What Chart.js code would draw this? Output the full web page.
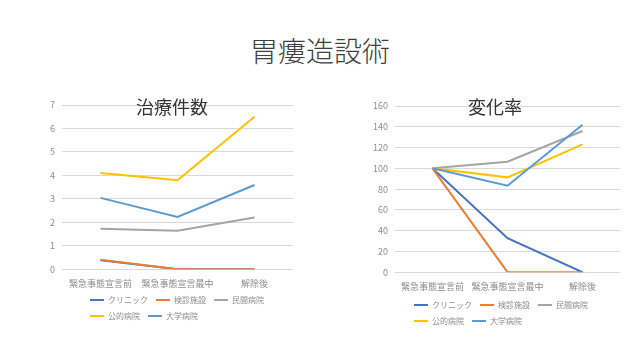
<!DOCTYPE html>
<html>
<head>
<meta charset="utf-8">
<script src="https://cdn.jsdelivr.net/npm/chart.js@4.4.1/dist/chart.umd.min.js"></script>
<style>
  html, body { margin: 0; padding: 0; background: #ffffff; }
  body { width: 640px; height: 360px; position: relative; overflow: hidden;
         font-family: "Noto Sans CJK JP", "Noto Sans", sans-serif; }
  .title { position: absolute; text-align: center; color: #333333; white-space: nowrap; z-index: 2; }
  #mainTitle { left: 0; width: 640px; top: 36px; height: 28px; line-height: 28px; font-size: 28px; font-weight: 300; color: #404040; }
  #leftTitle { left: 112px; width: 120px; top: 97px; height: 18px; line-height: 18px; font-size: 18px; }
  #rightTitle { left: 435px; width: 120px; top: 97px; height: 18px; line-height: 18px; font-size: 18px; }
  canvas { position: absolute; }
  #c1 { left: 0; top: 90px; }
  #c2 { left: 320px; top: 90px; }
</style>
</head>
<body>
<div id="mainTitle" class="title">胃瘻造設術</div>
<div id="leftTitle" class="title">治療件数</div>
<div id="rightTitle" class="title">変化率</div>
<canvas id="c1" width="315" height="254"></canvas>
<canvas id="c2" width="320" height="254"></canvas>
<script>
// ---- data ----
const categories = ['緊急事態宣言前', '緊急事態宣言最中', '解除後'];
const seriesNames = ['クリニック', '検診施設', '民間病院', '公的病院', '大学病院'];
const seriesColors = ['#4472C4', '#ED7D31', '#A5A5A5', '#FFC000', '#5B9BD5'];

// 治療件数
const clinicCount  = [0.38, 0, 0];
const kenshinCount = [0.40, 0, 0];
const minkanCount  = [1.72, 1.64, 2.20];
const kotekiCount  = [4.10, 3.79, 6.50];
const daigakuCount = [3.04, 2.23, 3.59];

// 変化率
const clinicRate  = [100, 32.7, 0];
const kenshinRate = [100, 0, 0];
const minkanRate  = [100, 106.4, 135.9];
const kotekiRate  = [100, 91.3, 123];
const daigakuRate = [100, 83.3, 142];

const countTicks = { min: 0, max: 7, step: 1 };
const rateTicks = { min: 0, max: 160, step: 20 };

// ---- helpers ----
const FONT = '"Noto Sans CJK JP", "Noto Sans", sans-serif';
const TEXT_GRAY = '#8c8c8c';
const GRID = '#d9d9d9';

function makeDatasets(arrays) {
  return arrays.map((d, i) => ({
    label: seriesNames[i],
    data: d,
    borderColor: seriesColors[i],
    backgroundColor: seriesColors[i],
    borderWidth: 2,
    pointRadius: 0,
    pointHoverRadius: 0,
    tension: 0,
    fill: false,
    order: arrays.length - i
  }));
}

const shiftLegend = {
  id: 'shiftLegend',
  afterLayout(chart, args, opts) {
    const l = chart.legend;
    if (!l) return;
    const dx = opts.dx || 0, dy = opts.dy || 0;
    l.left += dx; l.right += dx; l.top += dy; l.bottom += dy;
  }
};

function makeOptions(t, pad, legendDx, legendDy) {
  return {
    responsive: false,
    animation: false,
    layout: { padding: pad },
    plugins: {
      title: { display: false },
      tooltip: { enabled: false },
      shiftLegend: { dx: legendDx, dy: legendDy },
      legend: {
        display: true,
        position: 'bottom',
        align: 'start',
        fullSize: false,
        labels: {
          usePointStyle: true,
          pointStyle: 'line',
          pointStyleWidth: 14,
          padding: 8,
          color: TEXT_GRAY,
          font: { family: FONT, size: 8 },
          sort: (a, b) => a.datasetIndex - b.datasetIndex
        }
      }
    },
    scales: {
      x: {
        type: 'category',
        offset: true,
        grid: { display: false, drawTicks: false },
        border: { display: false },
        ticks: { color: TEXT_GRAY, font: { family: FONT, size: 9 }, padding: 9, maxRotation: 0, autoSkip: false }
      },
      y: {
        min: t.min, max: t.max,
        grid: { color: GRID, lineWidth: 1, drawTicks: false },
        border: { display: false },
        ticks: { stepSize: t.step, color: TEXT_GRAY, font: { family: FONT, size: 9 }, padding: 7 }
      }
    }
  };
}

new Chart(document.getElementById('c1'), {
  type: 'line',
  data: { labels: categories, datasets: makeDatasets([clinicCount, kenshinCount, minkanCount, kotekiCount, daigakuCount]) },
  options: makeOptions(countTicks, { left: 43, right: 22, top: 15, bottom: 4 }, 20, -10),
  plugins: [shiftLegend]
});

new Chart(document.getElementById('c2'), {
  type: 'line',
  data: { labels: categories, datasets: makeDatasets([clinicRate, kenshinRate, minkanRate, kotekiRate, daigakuRate]) },
  options: makeOptions(rateTicks, { left: 46, right: 20, top: 16, bottom: 1 }, 11, -8),
  plugins: [shiftLegend]
});
</script>
</body>
</html>
